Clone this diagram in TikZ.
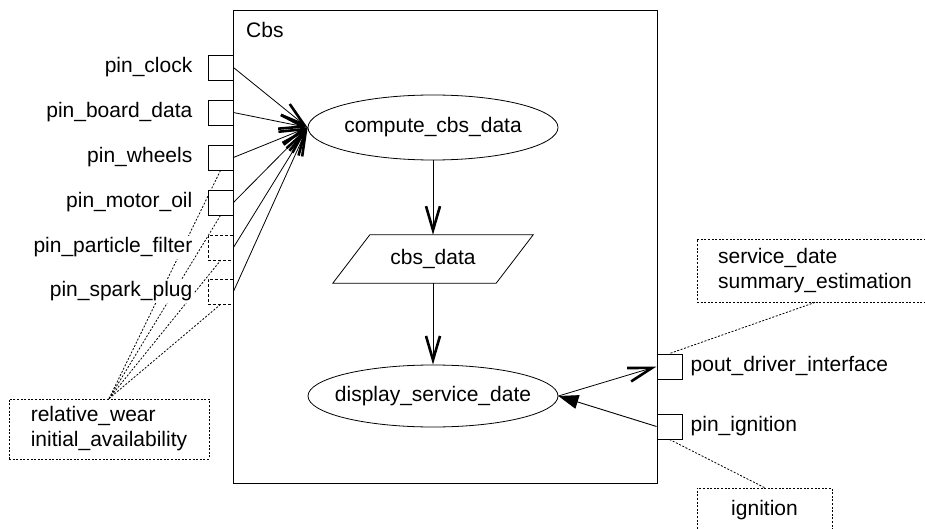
\documentclass[tikz,border=0pt]{standalone}
\usepackage{fontspec}
\setmainfont{Liberation Sans}
\usetikzlibrary{arrows.meta,shapes.geometric,backgrounds}
% fixed-width label box so the ellipse size does not follow the text
\newcommand\actlabel[1]{\makebox[176pt]{#1}}
\begin{document}
\begin{tikzpicture}[x=1pt,y=-1pt,
  font=\fontsize{21}{25}\selectfont,
  every node/.style={inner sep=0pt},
  sysbox/.style={draw,line width=1pt,minimum width=424pt,minimum height=473pt},
  port/.style={draw,fill=white,line width=0.9pt,minimum size=25pt},
  optport/.style={port,dash pattern=on 3pt off 2pt},
  portlabel/.style={fill=white,inner sep=1.5pt},
  activity/.style={draw,ellipse,line width=0.8pt,minimum width=250pt},
  note/.style={draw,fill=white,dash pattern=on 2pt off 1.6pt,line width=0.8pt,align=left},
  tracelink/.style={line width=0.8pt,dash pattern=on 2pt off 1.6pt},
  flow/.style={line width=0.8pt,-{Straight Barb[length=24pt,width=14pt,line width=2.6pt]}},
  control/.style={line width=0.9pt,-{Triangle[length=20pt,width=14pt]}}]

\useasboundingbox (0,0) rectangle (925,529);

% block frame and its title
\node[sysbox,anchor=north west] (sys) at (233,10) {};
\node[anchor=west] (title) at (246,30) {Cbs};

% input ports on the left side
\node[port]    (pclock)  at (220.5,67.5)  {};
\node[port]    (pboard)  at (220.5,112.5) {};
\node[port]    (pwheels) at (220.5,157.5) {};
\node[port]    (poil)    at (220.5,202.5) {};
\node[optport] (pfilter) at (220.5,247.5) {};
\node[optport] (pspark)  at (220.5,291.5) {};

\node[portlabel,anchor=east] (lclock)  at (194,67.5)  {pin\_clock};
\node[portlabel,anchor=east] (lboard)  at (194,112.5) {pin\_board\_data};
\node[portlabel,anchor=east] (lwheels) at (194,157.5) {pin\_wheels};
\node[portlabel,anchor=east] (loil)    at (194,202.5) {pin\_motor\_oil};
\node[portlabel,anchor=east] (lfilter) at (194,247.5) {pin\_particle\_filter};
\node[portlabel,anchor=east] (lspark)  at (194,291.5) {pin\_spark\_plug};

% ports on the right side
\node[port] (pout) at (669.5,366.5) {};
\node[port] (pign) at (669.5,426.5) {};
\node[portlabel,anchor=west] (lout) at (689,366.5) {pout\_driver\_interface};
\node[portlabel,anchor=west] (lign) at (689,426.5) {pin\_ignition};

% activities and the data object
\node[activity,minimum height=65pt] (compute) at (433,127.5) {\actlabel{compute\_cbs\_data}};
\node[minimum width=163pt,minimum height=48pt] (cbsdata) at (433,259) {cbs\_data};
\draw[line width=0.8pt] ([xshift=18.5pt]cbsdata.north west) -- ([xshift=18.5pt]cbsdata.north east)
  -- ([xshift=-18.5pt]cbsdata.south east) -- ([xshift=-18.5pt]cbsdata.south west) -- cycle;
\node[activity,minimum height=62pt] (display) at (433,396) {\actlabel{display\_service\_date}};

% notes
\node[note,minimum width=200pt,minimum height=60pt] (wearnote) at (109,429)
  {relative\_wear\\initial\_availability};
\node[note,minimum width=236pt,minimum height=63pt] (servnote) at (815,270.5)
  {service\_date\\summary\_estimation};
\node[note,minimum width=135pt,minimum height=44pt] (ignnote) at (764.5,510) {ignition};

% note links, kept behind ports and labels
\begin{pgfonlayer}{background}
  \fill[white] (0,0) rectangle (925,529);
  \draw[tracelink] (wearnote.north) -- (pwheels.south);
  \draw[tracelink] (wearnote.north) -- (poil.south);
  \draw[tracelink] (wearnote.north) -- (pfilter.south);
  \draw[tracelink] (wearnote.north) -- (pspark.south);
  \draw[tracelink] (servnote.south) -- (pout.north);
  \draw[tracelink] (pign.south) -- (ignnote.north);
\end{pgfonlayer}

% object flows
\foreach \p in {pclock,pboard,pwheels,poil,pfilter,pspark}
  \draw[flow] (\p.east) -- (compute.west);
\draw[flow] (compute.south) -- (cbsdata.north);
\draw[flow] (cbsdata.south) -- (display.north);
\draw[flow] (display.east) -- (pout.west);
\draw[control] (pign.west) -- (display.east);

\end{tikzpicture}
\end{document}
